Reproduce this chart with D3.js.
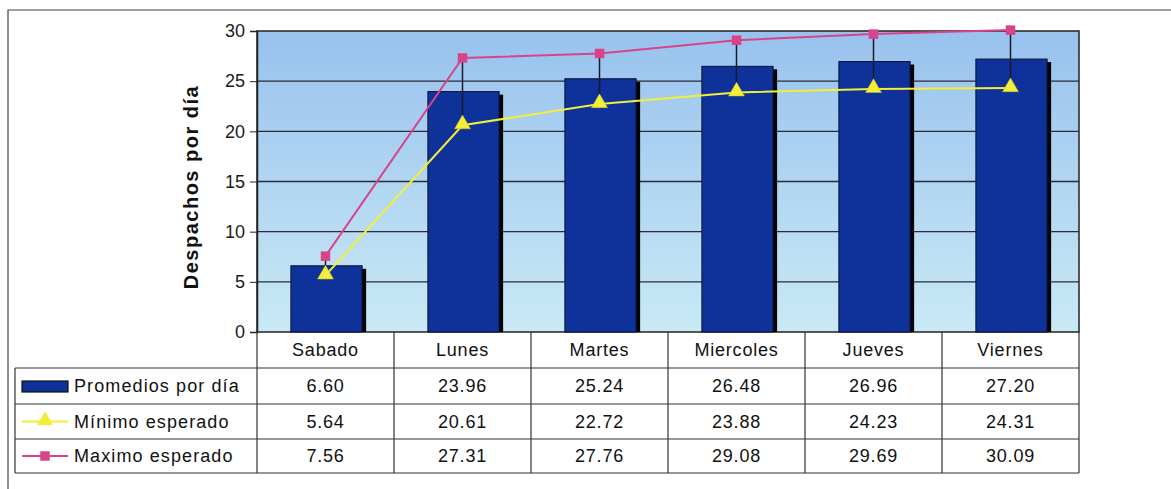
<!DOCTYPE html>
<html>
<head>
<meta charset="utf-8">
<script src="https://cdn.jsdelivr.net/npm/d3@7"></script>
<style>
  body { margin: 0; background: #fff; }
  text { font-family: Arial, "Liberation Sans", sans-serif; }
</style>
</head>
<body>
<div id="chart"></div>
<script>
const dias     = ['Sabado', 'Lunes', 'Martes', 'Miercoles', 'Jueves', 'Viernes'];
const promedio = [6.60, 23.96, 25.24, 26.48, 26.96, 27.20];
const minimo   = [5.64, 20.61, 22.72, 23.88, 24.23, 24.31];
const maximo   = [7.56, 27.31, 27.76, 29.08, 29.69, 30.09];
const yTicks   = [0, 5, 10, 15, 20, 25, 30];
const seriesNames = ['Promedios por día', 'Mínimo esperado', 'Maximo esperado'];

const W = 1171, H = 489;
const plot = {left: 257, right: 1079, top: 31, bottom: 332};
const rowH = [36, 36, 35, 34];
const legendLeft = 15;
const fs = 18;

const svg = d3.select('#chart').append('svg')
  .attr('width', W)
  .attr('height', H);

// outer frame (top and left edges visible)
svg.append('path')
  .attr('d', `M8,${H} L8,10 L${W},10`)
  .attr('fill', 'none')
  .attr('stroke', '#444')
  .attr('stroke-width', 1.2);

const x = d3.scaleBand()
  .domain(dias)
  .range([plot.left, plot.right]);

const y = d3.scaleLinear()
  .domain([0, 30])
  .range([plot.bottom, plot.top]);

// plot background gradient
const grad = svg.append('defs').append('linearGradient')
  .attr('id', 'bg-grad')
  .attr('x1', 0).attr('y1', 0).attr('x2', 0).attr('y2', 1);
grad.append('stop').attr('offset', 0).attr('stop-color', '#98c2ee');
grad.append('stop').attr('offset', 1).attr('stop-color', '#c9e9f5');

svg.append('rect')
  .attr('x', plot.left)
  .attr('y', plot.top)
  .attr('width', plot.right - plot.left)
  .attr('height', plot.bottom - plot.top)
  .attr('fill', 'url(#bg-grad)')
  .attr('stroke', '#222')
  .attr('stroke-width', 1.5);

// gridlines
svg.append('g')
  .selectAll('line')
  .data(yTicks.filter(d => d > 0 && d < 30))
  .join('line')
  .attr('x1', plot.left).attr('x2', plot.right)
  .attr('y1', d => y(d)).attr('y2', d => y(d))
  .attr('stroke', '#2a2a3a')
  .attr('stroke-width', 1.3);

// y axis
const yAxis = svg.append('g')
  .attr('transform', `translate(${plot.left},0)`)
  .call(d3.axisLeft(y).tickValues(yTicks).tickSize(7).tickPadding(5));
yAxis.select('.domain').attr('stroke', '#222').attr('stroke-width', 1.5);
yAxis.selectAll('.tick line').attr('stroke', '#222');
yAxis.selectAll('.tick text')
  .attr('font-size', fs)
  .attr('fill', '#1a1a1a')
  .style('font-family', 'Arial, "Liberation Sans", sans-serif');

svg.append('text')
  .attr('transform', `translate(198,187) rotate(-90)`)
  .attr('text-anchor', 'middle')
  .attr('font-size', 20)
  .attr('font-weight', 'bold')
  .attr('letter-spacing', 1.5)
  .attr('fill', '#111')
  .text('Despachos por día');

// bars with shadow
const barW = x.bandwidth() * 0.52;
const barX = d => x(d) + x.bandwidth() / 2 - barW / 2 + 1;

svg.append('g')
  .selectAll('rect')
  .data(dias)
  .join('rect')
  .attr('x', d => barX(d) + 4)
  .attr('y', (d, i) => y(promedio[i]) + 3)
  .attr('width', barW)
  .attr('height', (d, i) => plot.bottom - y(promedio[i]) - 3)
  .attr('fill', '#050505');

svg.append('g')
  .selectAll('rect')
  .data(dias)
  .join('rect')
  .attr('x', d => barX(d))
  .attr('y', (d, i) => y(promedio[i]))
  .attr('width', barW)
  .attr('height', (d, i) => plot.bottom - y(promedio[i]))
  .attr('fill', '#0e3299')
  .attr('stroke', '#0a1030')
  .attr('stroke-width', 1);

const cx = d => x(d) + x.bandwidth() / 2;

// min-max range lines
svg.append('g')
  .selectAll('line')
  .data(dias)
  .join('line')
  .attr('x1', cx).attr('x2', cx)
  .attr('y1', (d, i) => y(minimo[i]))
  .attr('y2', (d, i) => y(maximo[i]))
  .attr('stroke', '#1a1a2a')
  .attr('stroke-width', 1.5);

const line = d3.line()
  .x(d => cx(d[0]))
  .y(d => y(d[1]));

const maxColor = '#d8438a';
const minColor = '#f2ee3a';

svg.append('path')
  .datum(dias.map((d, i) => [d, maximo[i]]))
  .attr('d', line)
  .attr('fill', 'none')
  .attr('stroke', maxColor)
  .attr('stroke-width', 2);

svg.append('path')
  .datum(dias.map((d, i) => [d, minimo[i]]))
  .attr('d', line)
  .attr('fill', 'none')
  .attr('stroke', minColor)
  .attr('stroke-width', 2);

const square = d3.symbol().type(d3.symbolSquare).size(90);
const tri = d3.symbol().type(d3.symbolTriangle).size(110);

svg.append('g')
  .selectAll('path')
  .data(dias)
  .join('path')
  .attr('d', square)
  .attr('transform', (d, i) => `translate(${cx(d)},${y(maximo[i])})`)
  .attr('fill', maxColor);

svg.append('g')
  .selectAll('path')
  .data(dias)
  .join('path')
  .attr('d', tri)
  .attr('transform', (d, i) => `translate(${cx(d)},${y(minimo[i]) - 1})`)
  .attr('fill', minColor)
  .attr('stroke', '#c8c020')
  .attr('stroke-width', 0.5);

// data table
const rowY = [plot.bottom];
rowH.forEach(h => rowY.push(rowY[rowY.length - 1] + h));
const tableBottom = rowY[rowY.length - 1];

const table = svg.append('g').attr('class', 'table');
const tStroke = '#333';

// horizontal lines
[1, 2, 3, 4].forEach(r => {
  table.append('line')
    .attr('x1', legendLeft).attr('x2', plot.right)
    .attr('y1', rowY[r]).attr('y2', rowY[r]);
});

// vertical lines
table.selectAll('.vcol')
  .data(dias.concat(['end']))
  .join('line')
  .attr('class', 'vcol')
  .attr('x1', d => d === 'end' ? plot.right : x(d))
  .attr('x2', d => d === 'end' ? plot.right : x(d))
  .attr('y1', plot.bottom).attr('y2', tableBottom);
table.append('line')
  .attr('x1', legendLeft).attr('x2', legendLeft)
  .attr('y1', rowY[1]).attr('y2', tableBottom);

table.selectAll('line')
  .attr('stroke', tStroke)
  .attr('stroke-width', 1.2);

// header labels
table.selectAll('.hdr')
  .data(dias)
  .join('text')
  .attr('class', 'hdr')
  .attr('x', cx)
  .attr('y', (rowY[0] + rowY[1]) / 2)
  .attr('dy', '.35em')
  .attr('text-anchor', 'middle')
  .attr('font-size', fs)
  .attr('letter-spacing', 0.8)
  .attr('fill', '#111')
  .text(d => d);

const seriesVals = [promedio, minimo, maximo];
seriesVals.forEach((vals, r) => {
  table.selectAll(`.val${r}`)
    .data(dias)
    .join('text')
    .attr('class', `val${r}`)
    .attr('x', cx)
    .attr('y', (rowY[r + 1] + rowY[r + 2]) / 2)
    .attr('dy', '.35em')
    .attr('text-anchor', 'middle')
    .attr('font-size', fs)
    .attr('letter-spacing', 0.8)
    .attr('fill', '#111')
    .text((d, i) => vals[i].toFixed(2));

  table.append('text')
    .attr('x', 74)
    .attr('y', (rowY[r + 1] + rowY[r + 2]) / 2)
    .attr('dy', '.35em')
    .attr('font-size', fs)
    .attr('letter-spacing', 1.1)
    .attr('fill', '#111')
    .text(seriesNames[r]);
});

// legend keys
const k0 = (rowY[1] + rowY[2]) / 2;
table.append('rect')
  .attr('x', 22).attr('y', k0 - 5)
  .attr('width', 46).attr('height', 11)
  .attr('fill', '#0e3299')
  .attr('stroke', '#111')
  .attr('stroke-width', 1.2);

const k1 = (rowY[2] + rowY[3]) / 2;
table.append('line')
  .attr('x1', 22).attr('x2', 68)
  .attr('y1', k1).attr('y2', k1)
  .attr('stroke', minColor).attr('stroke-width', 2);
table.append('path')
  .attr('d', tri)
  .attr('transform', `translate(45,${k1 - 1})`)
  .attr('fill', minColor);

const k2 = (rowY[3] + rowY[4]) / 2;
table.append('line')
  .attr('x1', 22).attr('x2', 68)
  .attr('y1', k2).attr('y2', k2)
  .attr('stroke', maxColor).attr('stroke-width', 2);
table.append('path')
  .attr('d', square)
  .attr('transform', `translate(45,${k2})`)
  .attr('fill', maxColor);
</script>
</body>
</html>
